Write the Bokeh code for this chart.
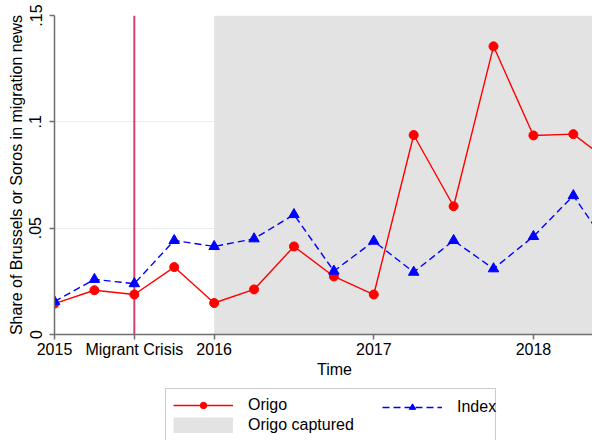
from bokeh.plotting import figure
from bokeh.layouts import column
from bokeh.models import Range1d, FixedTicker, Span, Legend, LegendItem, Label
from bokeh.embed import file_html
from bokeh.resources import INLINE

# ---- data ----
quarters = [2015.0, 2015.25, 2015.5, 2015.75, 2016.0, 2016.25, 2016.5, 2016.75,
            2017.0, 2017.25, 2017.5, 2017.75, 2018.0, 2018.25, 2018.5]
origo = [0.0145, 0.0208, 0.0188, 0.0317, 0.0148, 0.0212, 0.0414, 0.0273,
         0.0188, 0.0938, 0.0603, 0.1355, 0.0936, 0.0942, 0.0800]
index = [0.0155, 0.0259, 0.0239, 0.0442, 0.0414, 0.0450, 0.0564, 0.0298,
         0.0439, 0.0293, 0.0442, 0.0309, 0.0461, 0.0653, 0.0380]

crisis_date = 2015.5
captured_start = 2016.0
captured_end = 2018.5

xtick_vals = [2015, 2015.5, 2016, 2017, 2018]
xtick_labels = ["2015", "Migrant Crisis", "2016", "2017", "2018"]
ytick_vals = [0, 0.05, 0.1, 0.15]
ytick_labels = ["0", ".05", ".1", ".15"]

FONT = "Liberation Sans"
RED = "#ff0000"
BLUE = "#0000ff"
GREY = "#e3e3e3"
NAN = float("nan")

# ---------------- main plot ----------------
p = figure(width=592, height=362, output_backend="svg", toolbar_location=None,
           x_range=Range1d(2015, 2018.37), y_range=Range1d(0, 0.15),
           min_border_left=54, min_border_right=0, min_border_top=15,
           min_border_bottom=28)
p.outline_line_color = None
p.background_fill_color = "white"

p.quad(left=[captured_start], right=[captured_end], bottom=[0], top=[0.15],
       fill_color=GREY, line_color=None)

p.add_layout(Span(location=crisis_date, dimension="height", line_color="#d6416b",
                  line_width=2, level="underlay"))

p.line(quarters, origo, line_color=RED, line_width=1.4)
p.scatter(quarters, origo, marker="circle", size=9, fill_color=RED, line_color=RED)
p.line(quarters, index, line_color=BLUE, line_width=1.4, line_dash="7 4")
p.scatter(quarters, index, marker="triangle", size=10.5, fill_color=BLUE,
          line_color=BLUE)

p.xaxis.ticker = FixedTicker(ticks=xtick_vals)
p.xaxis.major_label_overrides = dict(zip(xtick_vals, xtick_labels))
p.yaxis.ticker = FixedTicker(ticks=ytick_vals)
p.yaxis.major_label_overrides = dict(zip(ytick_vals, ytick_labels))
p.yaxis.major_label_orientation = "vertical"
p.yaxis.axis_label = "Share of Brussels or Soros in migration news"

for ax in (p.xaxis, p.yaxis):
    ax.axis_line_color = "#6e6e6e"
    ax.axis_line_width = 1.5
    ax.major_tick_line_color = "#6e6e6e"
    ax.major_tick_line_width = 1.5
    ax.major_tick_out = 5
    ax.major_tick_in = 0
    ax.minor_tick_line_color = None
    ax.major_label_text_font = FONT
    ax.major_label_text_font_size = "16px"
    ax.major_label_text_color = "black"
    ax.axis_label_text_font = FONT
    ax.axis_label_text_font_size = "16px"
    ax.axis_label_text_font_style = "normal"
    ax.axis_label_text_color = "black"
p.xaxis.major_label_standoff = 1
p.yaxis.major_label_standoff = 8
p.yaxis.axis_label_standoff = 2

p.xgrid.visible = False
p.ygrid.ticker = FixedTicker(ticks=ytick_vals[1:])
p.ygrid.grid_line_color = "#e6eeef"
p.ygrid.grid_line_width = 1

# ---------------- axis title + legend strip ----------------
# data units of this strip equal page pixels (x: 54..592, y: 362..440 top-down)
q = figure(width=592, height=78, output_backend="svg", toolbar_location=None,
           x_range=Range1d(54, 592), y_range=Range1d(440, 362),
           x_axis_location=None, y_axis_location=None,
           min_border_left=54, min_border_right=0, min_border_top=0,
           min_border_bottom=0)
q.outline_line_color = None
q.xgrid.visible = False
q.ygrid.visible = False

q.add_layout(Label(x=334, y=369, text="Time", text_align="center",
                   text_baseline="alphabetic", text_font=FONT,
                   text_font_size="16px", text_color="black"))

# legend key glyphs (placeholder NaN data, used only for the key)
k_oline = q.line([NAN], [NAN], line_color=RED, line_width=1.4)
k_ocirc = q.scatter([NAN], [NAN], marker="circle", size=9, fill_color=RED,
                    line_color=RED)
k_iline = q.line([NAN], [NAN], line_color=BLUE, line_width=1.4, line_dash="7 4")
k_itri = q.scatter([NAN], [NAN], marker="triangle", size=10.5, fill_color=BLUE,
                   line_color=BLUE)
k_area = q.line([NAN], [NAN], line_color=GREY, line_width=16)

common = dict(glyph_width=60, glyph_height=16, label_height=16,
              label_standoff=15, spacing=2, padding=7, margin=0,
              label_text_font=FONT, label_text_font_size="16px",
              label_text_color="black")
legA = Legend(items=[LegendItem(label="Origo", renderers=[k_oline, k_ocirc]),
                     LegendItem(label="Origo captured", renderers=[k_area])],
              location=(111, -2), orientation="vertical", label_width=240,
              border_line_color="#9a9a9a", border_line_width=1,
              background_fill_color="white", background_fill_alpha=1, **common)
legB = Legend(items=[LegendItem(label="Index", renderers=[k_iline, k_itri])],
              location=(328, 24), orientation="vertical",
              border_line_color=None, background_fill_alpha=0, **common)
q.add_layout(legA)
q.add_layout(legB)

layout = column(p, q, spacing=0)
open("out.html", "w").write(file_html(layout, INLINE))
